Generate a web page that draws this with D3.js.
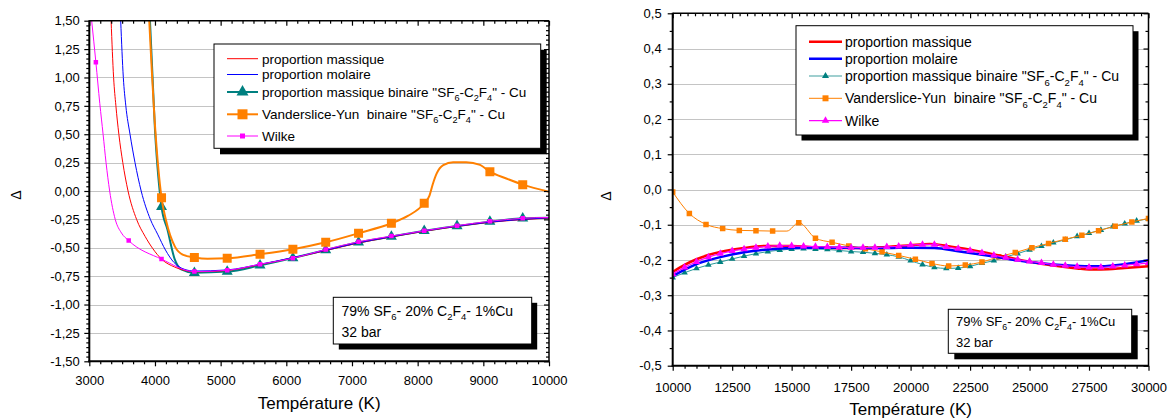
<!DOCTYPE html>
<html><head><meta charset="utf-8">
<script src="https://cdn.jsdelivr.net/npm/d3@7"></script>
<style>
body{margin:0;background:#fff}
svg{display:block}
text{font-family:Arial,"Liberation Sans",sans-serif;fill:#000;white-space:pre}
</style>
</head><body>
<svg id="c" width="1170" height="419"></svg>
<script>
// ---------------- DATA ----------------
const seriesNames = ['proportion massique','proportion molaire','proportion massique binaire "SF_6-C_2F_4" - Cu','Vanderslice-Yun  binaire "SF_6-C_2F_4" - Cu','Wilke'];
const annotationLines = ['79% SF_6- 20% C_2F_4- 1%Cu','32 bar'];
const xTitle = 'Température (K)';
const yTitle = 'Δ';

// Left panel (3000 - 10000 K)
const leftXTicks = [3000,4000,5000,6000,7000,8000,9000,10000];
const leftYTicks = [-1.5,-1.25,-1.0,-0.75,-0.5,-0.25,0,0.25,0.5,0.75,1.0,1.25,1.5];
const leftMarkerT = [3100,3600,4100,4600,5100,5600,6100,6600,7100,7600,8100,8600,9100,9600];

const leftMassique = [[3332,1.5],[3370,1.0],[3405,0.75],[3450,0.5],[3510,0.25],[3590,0.0],[3720,-0.25],[3850,-0.40],[3970,-0.51],[4100,-0.60],[4300,-0.67],[4500,-0.705],[4600,-0.712],[5100,-0.70],[5600,-0.648],[6100,-0.59],[6600,-0.525],[7100,-0.458],[7600,-0.405],[8100,-0.355],[8600,-0.312],[9100,-0.276],[9600,-0.252],[10000,-0.238]];
const leftMolaire = [[3478,1.5],[3518,1.0],[3556,0.75],[3620,0.5],[3696,0.25],[3790,0.0],[3930,-0.25],[4040,-0.38],[4160,-0.52],[4290,-0.63],[4450,-0.69],[4600,-0.705],[5100,-0.695],[5600,-0.645],[6100,-0.587],[6600,-0.522],[7100,-0.455],[7600,-0.403],[8100,-0.352],[8600,-0.31],[9100,-0.274],[9600,-0.25],[10000,-0.236]];
const leftBinaire = [[3924,1.5],[4000,0.54],[4100,-0.14],[4190,-0.34],[4300,-0.60],[4400,-0.69],[4600,-0.72],[5100,-0.71],[5600,-0.655],[6100,-0.59],[6600,-0.52],[7100,-0.452],[7600,-0.402],[8100,-0.35],[8600,-0.308],[9100,-0.27],[9600,-0.24],[10000,-0.235]];
const leftVanderslice = [[3913,1.5],[4005,0.537],[4100,-0.06],[4167,-0.255],[4304,-0.49],[4430,-0.563],[4600,-0.585],[4800,-0.597],[5100,-0.593],[5600,-0.557],[6100,-0.513],[6600,-0.452],[7100,-0.372],[7600,-0.284],[7850,-0.22],[8100,-0.108],[8180,-0.04],[8230,0.06],[8290,0.155],[8390,0.228],[8540,0.253],[8740,0.253],[8950,0.23],[9100,0.17],[9350,0.11],[9600,0.056],[10000,-0.006]];
const leftWilke = [[3036,1.5],[3100,1.135],[3160,0.77],[3210,0.5],[3255,0.25],[3310,0.0],[3395,-0.25],[3490,-0.37],[3600,-0.437],[4100,-0.60],[4600,-0.71],[5100,-0.698],[5600,-0.645],[6100,-0.592],[6600,-0.515],[7100,-0.447],[7600,-0.397],[8100,-0.35],[8600,-0.305],[9100,-0.267],[9600,-0.24],[10000,-0.233]];

// Right panel (10000 - 30000 K)
const rightXTicks = [10000,12500,15000,17500,20000,22500,25000,27500,30000];
const rightYTicks = [-0.5,-0.4,-0.3,-0.2,-0.1,0,0.1,0.2,0.3,0.4,0.5];
const rightMassique = [[10000,-0.234],[10500,-0.214],[11000,-0.198],[11500,-0.186],[12000,-0.177],[13000,-0.166],[14000,-0.160],[15000,-0.160],[16000,-0.164],[17000,-0.166],[18000,-0.166],[19000,-0.163],[20000,-0.158],[20800,-0.155],[21500,-0.160],[22000,-0.165],[23000,-0.177],[24000,-0.191],[25000,-0.205],[26000,-0.216],[27000,-0.224],[27500,-0.227],[28000,-0.227],[29000,-0.223],[30000,-0.218]];
const rightMolaire = [[10000,-0.246],[11000,-0.212],[12000,-0.192],[13000,-0.178],[14000,-0.170],[15000,-0.166],[16000,-0.165],[17000,-0.165],[18000,-0.166],[19000,-0.166],[20000,-0.165],[21000,-0.166],[22000,-0.175],[23000,-0.185],[24000,-0.196],[25000,-0.206],[26000,-0.213],[27000,-0.217],[27500,-0.218],[28000,-0.218],[29000,-0.212],[30000,-0.201]];
const rightBinaire = [[10000,-0.250],[10500,-0.236],[11000,-0.224],[11500,-0.214],[12000,-0.206],[12500,-0.197],[13000,-0.189],[13500,-0.182],[14000,-0.176],[14500,-0.172],[15000,-0.169],[15500,-0.168],[16000,-0.169],[16500,-0.170],[17000,-0.173],[17500,-0.176],[18000,-0.178],[18500,-0.181],[19000,-0.185],[19500,-0.191],[20000,-0.202],[20500,-0.213],[21000,-0.221],[21500,-0.224],[22000,-0.223],[22500,-0.218],[23000,-0.209],[23500,-0.202],[24000,-0.191],[24500,-0.182],[25000,-0.171],[25500,-0.161],[26000,-0.151],[26500,-0.143],[27000,-0.133],[27500,-0.124],[28000,-0.115],[28500,-0.105],[29000,-0.097],[29500,-0.089],[30000,-0.083]];
const rightVanderslice = [[10000,-0.007],[10700,-0.068],[11400,-0.099],[12100,-0.111],[12800,-0.116],[13500,-0.117],[14200,-0.118],[14800,-0.118],[15300,-0.094],[16000,-0.138],[16700,-0.150],[17400,-0.160],[18100,-0.168],[18800,-0.177],[19500,-0.187],[20200,-0.198],[20900,-0.210],[21600,-0.217],[22300,-0.214],[23000,-0.206],[23700,-0.191],[24400,-0.179],[25100,-0.165],[25800,-0.153],[26500,-0.141],[27200,-0.130],[27900,-0.117],[28600,-0.104],[29300,-0.092],[30000,-0.082]];
const rightVandersliceNoMarkerT = [14800];
const rightWilke = [[10000,-0.240],[10500,-0.221],[11000,-0.205],[11500,-0.192],[12000,-0.182],[12500,-0.174],[13000,-0.169],[13500,-0.165],[14000,-0.161],[14500,-0.159],[15000,-0.160],[15500,-0.161],[16000,-0.162],[16500,-0.163],[17000,-0.164],[17500,-0.165],[18000,-0.165],[18500,-0.165],[19000,-0.163],[19500,-0.161],[20000,-0.158],[20500,-0.156],[21000,-0.156],[21500,-0.163],[22000,-0.168],[22500,-0.173],[23000,-0.180],[23500,-0.187],[24000,-0.193],[24500,-0.199],[25000,-0.204],[25500,-0.208],[26000,-0.213],[26500,-0.216],[27000,-0.219],[27500,-0.221],[28000,-0.221],[28500,-0.218],[29000,-0.215],[29500,-0.212],[30000,-0.208]];

// ---------------- DRAWING ----------------
const svg = d3.select('#c');
const FONT = 'Arial, "Liberation Sans", sans-serif';

function rich(textSel, str, size){
  const parts = str.split(/(_\d)/);
  let sub = false;
  parts.forEach(p => {
    if (!p) return;
    if (/^_\d$/.test(p)) {
      textSel.append('tspan').attr('font-size', size*0.68).attr('dy', sub ? 0 : size*0.32).text(p[1]);
      sub = true;
    } else {
      const t = textSel.append('tspan').text(p);
      if (sub) { t.attr('dy', -size*0.32); sub = false; }
    }
  });
}
function minors(majors, n){
  const out = [];
  for (let i=0;i<majors.length-1;i++){
    const a=majors[i], b=majors[i+1];
    for (let k=1;k<=n;k++) out.push(a+(b-a)*k/(n+1));
  }
  return out;
}
function symbolPath(type, w){
  if (type==='tri') return d3.symbol(d3.symbolTriangle, w*w*Math.sqrt(3)/4)();
  return d3.symbol(d3.symbolSquare, w*w)();
}

function panel(cfg){
  const x = d3.scaleLinear().domain(cfg.xDomain).range(cfg.xRange);
  const y = d3.scaleLinear().domain(cfg.yDomain).range(cfg.yRange);
  const [xl, xr] = cfg.xRange, [yb, yt] = cfg.yRange;
  const g = svg.append('g');
  const clipId = 'clip' + cfg.id;
  svg.append('clipPath').attr('id', clipId).append('rect')
    .attr('x', xl).attr('y', yt).attr('width', xr-xl).attr('height', yb-yt);

  // grid
  g.append('g').selectAll('line').data(cfg.yTicks.filter(v => v>cfg.yDomain[0] && v<cfg.yDomain[1]))
    .join('line').attr('x1', xl).attr('x2', xr)
    .attr('y1', d => Math.round(y(d))+0.5).attr('y2', d => Math.round(y(d))+0.5)
    .attr('stroke', '#c4c4c4').attr('stroke-width', 1);

  // series
  const line = d3.line().x(d => x(d[0])).y(d => y(d[1])).curve(d3.curveMonotoneX);
  const sg = g.append('g').attr('clip-path', `url(#${clipId})`);
  cfg.series.forEach(s => {
    sg.append('path').datum(s.data).attr('d', line).attr('fill','none')
      .attr('stroke', s.lineColor || s.color).attr('stroke-width', s.width).attr('stroke-linejoin','round');
    if (s.symbol) {
      const pts = s.data.filter(s.markerFilter);
      sg.append('g').selectAll('path').data(pts).join('path')
        .attr('d', symbolPath(s.symbol, s.symSize))
        .attr('transform', d => `translate(${x(d[0])},${y(d[1])})`)
        .attr('fill', s.color);
    }
  });

  // axes
  const styleAxis = sel => { sel.select('.domain').remove(); sel.attr('font-family', FONT).attr('font-size', cfg.tickFont).attr('color','#000'); sel.selectAll('line').attr('stroke-width', 1.2); };
  g.append('g').attr('transform', `translate(0,${yb})`)
    .call(d3.axisBottom(x).tickValues(cfg.xTicks).tickSize(5).tickPadding(cfg.xPad).tickFormat(d => String(d))).call(styleAxis);
  g.append('g').attr('transform', `translate(0,${yb})`)
    .call(d3.axisBottom(x).tickValues(minors(cfg.xTicks, cfg.xMinorBottom)).tickSize(3).tickFormat('')).call(styleAxis);
  g.append('g').attr('transform', `translate(0,${yt})`)
    .call(d3.axisBottom(x).tickValues(cfg.xTicks).tickSize(5).tickFormat('')).call(styleAxis);
  g.append('g').attr('transform', `translate(0,${yt})`)
    .call(d3.axisBottom(x).tickValues(minors(cfg.xTicks, cfg.xMinorTop)).tickSize(3).tickFormat('')).call(styleAxis);
  g.append('g').attr('transform', `translate(${xl},0)`)
    .call(d3.axisLeft(y).tickValues(cfg.yTicks).tickSize(5).tickPadding(cfg.yPad).tickFormat(cfg.yFormat)).call(styleAxis);
  g.append('g').attr('transform', `translate(${xl},0)`)
    .call(d3.axisLeft(y).tickValues(minors(cfg.yTicks, cfg.yMinorLeft)).tickSize(3).tickFormat('')).call(styleAxis);
  g.append('g').attr('transform', `translate(${xr},0)`)
    .call(d3.axisLeft(y).tickValues(cfg.yTicks).tickSize(5).tickFormat('')).call(styleAxis);
  g.append('g').attr('transform', `translate(${xr},0)`)
    .call(d3.axisLeft(y).tickValues(minors(cfg.yTicks, cfg.yMinorRight)).tickSize(3).tickFormat('')).call(styleAxis);

  // frame
  g.append('line').attr('x1', xl).attr('x2', xr).attr('y1', yt).attr('y2', yt).attr('stroke','#000').attr('stroke-width',1.5);
  g.append('line').attr('x1', xr).attr('x2', xr).attr('y1', yt).attr('y2', yb).attr('stroke','#000').attr('stroke-width',1.5);
  g.append('line').attr('x1', xl).attr('x2', xl).attr('y1', yt-0.5).attr('y2', yb+1).attr('stroke','#000').attr('stroke-width',2);
  g.append('line').attr('x1', xl-1).attr('x2', xr+0.5).attr('y1', yb).attr('y2', yb).attr('stroke','#000').attr('stroke-width',2);

  // legend
  const L = cfg.legend;
  g.append('rect').attr('x', L.x+L.sh).attr('y', L.y+L.sh).attr('width', L.w).attr('height', L.h).attr('fill','#000');
  g.append('rect').attr('x', L.x).attr('y', L.y).attr('width', L.w).attr('height', L.h).attr('fill','#fff').attr('stroke','#000').attr('stroke-width',1);
  cfg.series.forEach(s => {
    const ry = L.rows[s.nameIndex];
    g.append('line').attr('x1', L.lx1).attr('x2', L.lx2).attr('y1', ry).attr('y2', ry)
      .attr('stroke', s.legendLineColor || s.lineColor || s.color).attr('stroke-width', s.legendWidth || s.width);
    if (s.symbol) g.append('path').attr('d', symbolPath(s.symbol, s.legendSym || s.symSize))
      .attr('transform', `translate(${(L.lx1+L.lx2)/2},${ry})`).attr('fill', s.color);
    const t = g.append('text').attr('x', L.tx).attr('y', ry + L.font*0.36).attr('font-size', L.font);
    rich(t, seriesNames[s.nameIndex], L.font);
  });

  // annotation
  const A = cfg.annot;
  g.append('rect').attr('x', A.x+A.sh).attr('y', A.y+A.sh).attr('width', A.w).attr('height', A.h).attr('fill','#000');
  g.append('rect').attr('x', A.x).attr('y', A.y).attr('width', A.w).attr('height', A.h).attr('fill','#fff').attr('stroke','#000').attr('stroke-width',1);
  annotationLines.forEach((s, i) => {
    const t = g.append('text').attr('x', A.tx).attr('y', A.base[i]).attr('font-size', A.font);
    rich(t, s, A.font);
  });

  // titles
  g.append('text').attr('x', (xl+xr)/2).attr('y', cfg.xTitleY).attr('text-anchor','middle').attr('font-size', cfg.titleFont).text(xTitle);
  g.append('text').attr('transform', `translate(${cfg.yTitleX},${cfg.yTitleY}) rotate(-90)`).attr('text-anchor','middle').attr('font-size', 14).text(yTitle);
}

const inLeftMarkers = d => leftMarkerT.includes(d[0]);
panel({
  id: 'L', xDomain: [3000,10000], xRange: [89.3,549], yDomain: [-1.5,1.5], yRange: [361.3,20.7],
  xTicks: leftXTicks, yTicks: leftYTicks, xMinorBottom: 5, xMinorTop: 5, yMinorLeft: 5, yMinorRight: 5,
  yFormat: d => d.toFixed(2).replace('.', ','), tickFont: 13, xPad: 9, yPad: 4.5,
  series: [
    {nameIndex: 2, data: leftBinaire, color: '#008080', width: 2, symbol: 'tri', symSize: 11, markerFilter: inLeftMarkers, legendSym: 12},
    {nameIndex: 3, data: leftVanderslice, color: '#ff8000', width: 2, symbol: 'sq', symSize: 9, markerFilter: inLeftMarkers, legendSym: 10},
    {nameIndex: 0, data: leftMassique, color: '#ff0000', width: 1},
    {nameIndex: 1, data: leftMolaire, color: '#0000ff', width: 1},
    {nameIndex: 4, data: leftWilke, color: '#ff00ff', width: 1, symbol: 'sq', symSize: 4.5, markerFilter: inLeftMarkers, legendSym: 5}
  ],
  legend: {x: 214, y: 44, w: 326.7, h: 104.3, sh: 6, lx1: 227, lx2: 258, tx: 262, font: 13.5,
           rows: [58.7, 74.5, 92, 114.3, 136]},
  annot: {x: 333.3, y: 297.3, w: 198.4, h: 46.7, sh: 5.5, tx: 341.5, base: [315.7, 336.7], font: 14},
  xTitleY: 409, yTitleX: 20.5, yTitleY: 195, titleFont: 17
});

panel({
  id: 'R', xDomain: [10000,30000], xRange: [672.7,1148.5], yDomain: [-0.5,0.5], yRange: [365.7,13.3],
  xTicks: rightXTicks, yTicks: rightYTicks, xMinorBottom: 4, xMinorTop: 7, yMinorLeft: 1, yMinorRight: 1,
  yFormat: d => d.toFixed(1).replace('.', ','), tickFont: 13, xPad: 12, yPad: 6,
  series: [
    {nameIndex: 2, data: rightBinaire, color: '#008080', lineColor: '#2a9a9a', width: 1, symbol: 'tri', symSize: 6.5, markerFilter: d => true, legendLineColor: '#7fbfbf', legendWidth: 1.5, legendSym: 7},
    {nameIndex: 3, data: rightVanderslice, color: '#ff8000', width: 1, symbol: 'sq', symSize: 5.5, markerFilter: d => !rightVandersliceNoMarkerT.includes(d[0]), legendSym: 6},
    {nameIndex: 0, data: rightMassique, color: '#ff0000', width: 2.5},
    {nameIndex: 1, data: rightMolaire, color: '#0000ff', width: 2.5},
    {nameIndex: 4, data: rightWilke, color: '#ff00ff', width: 1.2, symbol: 'tri', symSize: 7.5, markerFilter: d => true, legendSym: 7.5}
  ],
  legend: {x: 796, y: 25.7, w: 337, h: 109.3, sh: 5.5, lx1: 809, lx2: 842, tx: 845, font: 14,
           rows: [41.7, 58.8, 76, 98.3, 120.7]},
  annot: {x: 948.3, y: 309.3, w: 183.4, h: 44, sh: 6, tx: 956, base: [326, 347.3], font: 13},
  xTitleY: 415, yTitleX: 611, yTitleY: 196, titleFont: 17
});
</script>
</body></html>
